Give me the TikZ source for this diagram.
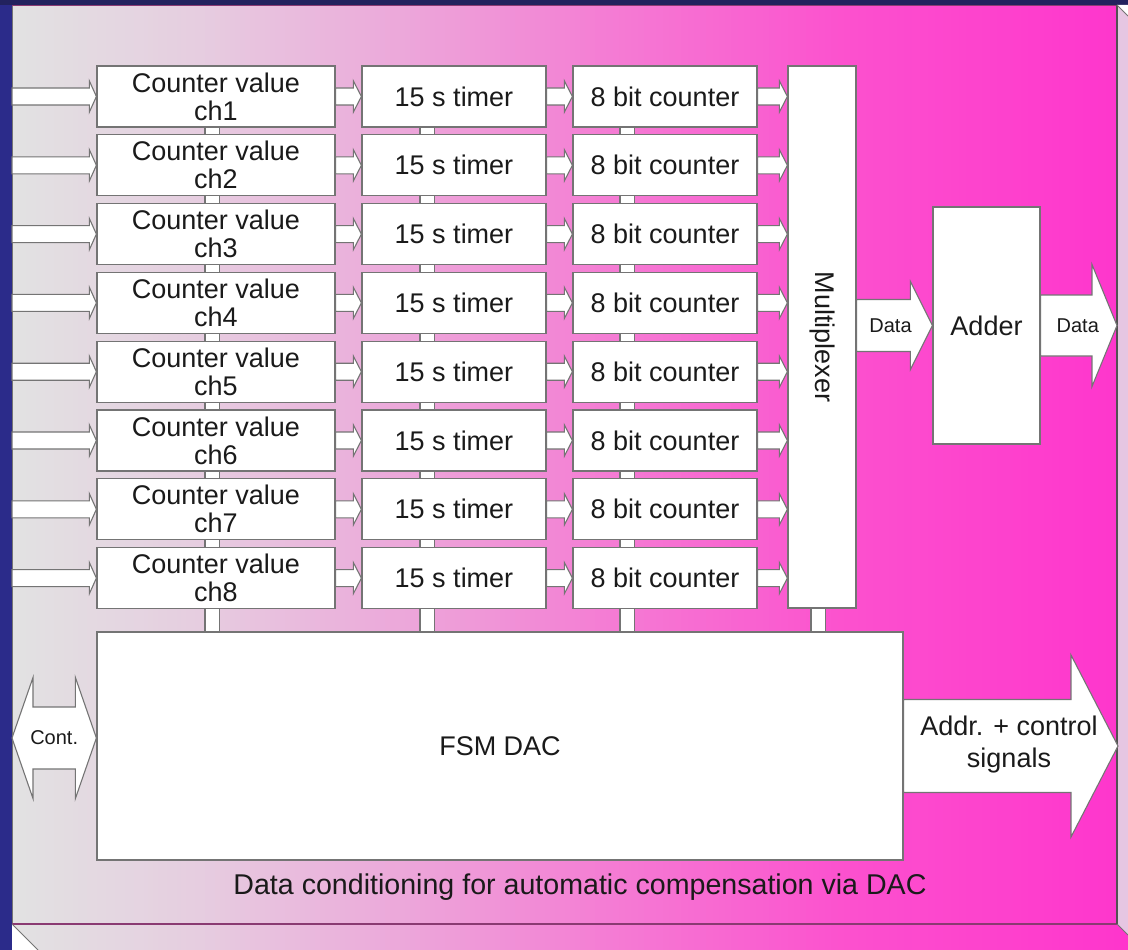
\documentclass[tikz,border=0pt]{standalone}
\usepackage{fontspec}
\setmainfont{Liberation Sans}
\usetikzlibrary{calc}
\definecolor{navybg}{HTML}{22225E}
\definecolor{bluebg}{HTML}{2B2B8A}
\definecolor{gA}{HTML}{E2E2E2}
\definecolor{gB}{HTML}{E6CDE0}
\definecolor{gC}{HTML}{ECA8DA}
\definecolor{gD}{HTML}{F47ED4}
\definecolor{gE}{HTML}{FC50CE}
\definecolor{gF}{HTML}{FF32CC}
\definecolor{sideface}{HTML}{E6C6E2}
\definecolor{boxline}{HTML}{747474}
\definecolor{txt}{HTML}{1A1A1A}
\definecolor{edgeline}{HTML}{8A3A72}
\newcommand\myfontA{\fontsize{27}{29}\selectfont}
\newcommand\myfontB{\fontsize{20}{22}\selectfont}
% solid-strip gradient segment: #1 colour from, #2 colour to, #3 x1, #4 x2, #5 y1, #6 y2
\newcommand\gradseg[6]{%
  \foreach \k in {0,...,39}{%
    \pgfmathsetmacro\pc{100*(\k+0.5)/40}%
    \fill[#2!\pc!#1] ({#3+(#4-#3)*\k/40},#5) rectangle ({#3+(#4-#3)*(\k+1)/40+0.8},#6);
  }}
\newcommand\gradstrips[2]{%
  \gradseg{gA}{gB}{12}{200}{#1}{#2}
  \gradseg{gB}{gC}{200}{400}{#1}{#2}
  \gradseg{gC}{gD}{400}{600}{#1}{#2}
  \gradseg{gD}{gE}{600}{850}{#1}{#2}
  \gradseg{gE}{gF}{850}{1160}{#1}{#2}
}
% block arrow: #1 start, #2 tip, #3 half shaft, #4 half head, #5 head length
\newcommand\blockarr[5]{%
  \draw[arrowsty] ($(#1)+(0,-#3)$) -- ($(#2)+(-#5,-#3)$) -- ($(#2)+(-#5,-#4)$) -- (#2)
    -- ($(#2)+(-#5,#4)$) -- ($(#2)+(-#5,#3)$) -- ($(#1)+(0,#3)$) -- cycle;}
\begin{document}
\begin{tikzpicture}[x=1pt,y=-1pt,
  box/.style={draw=boxline,line width=1.2pt,fill=white,inner sep=0pt,align=center,
    text=txt,font=\myfontA},
  arrowsty/.style={draw=boxline,line width=1.1pt,fill=white,line join=miter},
  small/.style={text=txt,font=\myfontB,inner sep=0pt}]
\useasboundingbox (0,0) rectangle (1128,950);
% background
\fill[bluebg] (0,0) rectangle (1128,950);
\fill[navybg] (0,0) rectangle (1128,5);
% front and bottom faces (same gradient)
\gradstrips{5}{960}
% outside corners
\fill[white] (12,924) -- (12,951) -- (39,951) -- cycle;
\fill[bluebg] (0,924) rectangle (12,951);
% right face
\fill[sideface] (1117,5) -- (1150,38) -- (1150,957) -- (1117,924) -- cycle;
\fill[white] (1117,5) -- (1129,5) -- (1129,17) -- cycle;
% edges
\draw[boxline,line width=1pt] (12,924) -- (12,5);
\draw[edgeline,line width=0.8pt] (12,5) -- (1117,5);
\draw[edgeline,line width=1.2pt] (12,924) -- (1117,924);
\draw[boxline!70!black,line width=1.5pt] (1117,5) -- (1117,924);
\draw[boxline,line width=0.8pt] (12,924) -- (38,950);
\draw[boxline,line width=0.8pt] (1117,5) -- (1128,16);
\draw[boxline,line width=0.8pt] (1117,924) -- (1128,935);
% stubs (vertical links)
\foreach \sx in {205,420,620,811}{
  \fill[white] (\sx,66) rectangle ({\sx+14.5},632);
  \draw[boxline,line width=1.1pt] (\sx,66) -- (\sx,632) ({\sx+14.5},66) -- ({\sx+14.5},632);
}
% boxes
\foreach \i in {1,...,8}{
  \pgfmathsetmacro\yy{96.5+68.8*(\i-1)}
  \node[box,minimum width=238pt,minimum height=61pt] (c\i) at (216,\yy) {Counter value\\[-1pt]ch\i};
  \node[box,minimum width=184pt,minimum height=61pt] (t\i) at (454,\yy) {15 s timer};
  \node[box,minimum width=184pt,minimum height=61pt] (b\i) at (665,\yy) {8 bit counter};
  \coordinate (in\i) at (12,\yy);
}
\node[box,minimum width=68pt,minimum height=542pt] (mux) at (822,337) {};
\node[text=txt,font=\myfontA,rotate=-90] at (mux.center) {Multiplexer};
\node[box,minimum width=107pt,minimum height=237pt] (adder) at (986.5,325.5) {Adder};
\node[box,minimum width=806pt,minimum height=228pt] (fsm) at (500,746) {FSM DAC};
% row arrows
\foreach \i in {1,...,8}{
  \coordinate (m\i) at (b\i.east -| mux.west);
  \blockarr{in\i}{c\i.west}{8.5}{15.5}{7}
  \blockarr{c\i.east}{t\i.west}{8.5}{15.5}{8}
  \blockarr{t\i.east}{b\i.west}{8.5}{15.5}{8}
  \blockarr{b\i.east}{m\i}{8.5}{15.5}{8}
}
% data arrows
\coordinate (muxout) at (mux.east |- adder.west);
\blockarr{muxout}{adder.west}{26}{44}{22}
\node[small] at ($(muxout)!0.5!(adder.west)+(-4,0)$) {Data};
\coordinate (dataout) at (1117,325.5);
\blockarr{adder.east}{dataout}{30.5}{61}{25}
\node[small] at ($(adder.east)!0.5!(dataout)+(-1,0)$) {Data};
% address + control arrow
\coordinate (addrout) at (1118,746);
\blockarr{fsm.east}{addrout}{46.5}{91}{47}
\node[text=txt,font=\fontsize{27}{32}\selectfont,align=center,inner sep=0pt] at (1009,745) {Addr. + control\\signals};
% Cont. double arrow
\coordinate (contR) at ($(fsm.west)+(0,-8)$);
\coordinate (contL) at (12,738);
\draw[arrowsty] (contL) -- ($(contL)+(21,-60.5)$) -- ($(contL)+(21,-31)$) -- ($(contR)+(-21,-31)$)
  -- ($(contR)+(-21,-60.5)$) -- (contR) -- ($(contR)+(-21,60.5)$) -- ($(contR)+(-21,31)$)
  -- ($(contL)+(21,31)$) -- ($(contL)+(21,60.5)$) -- cycle;
\node[small] at ($(contL)!0.5!(contR)$) {Cont.};
% caption
\node[text=txt,font=\fontsize{28.6}{30}\selectfont,inner sep=0pt] (cap) at (580,887) {Data conditioning for automatic compensation via DAC};
\end{tikzpicture}
\end{document}
